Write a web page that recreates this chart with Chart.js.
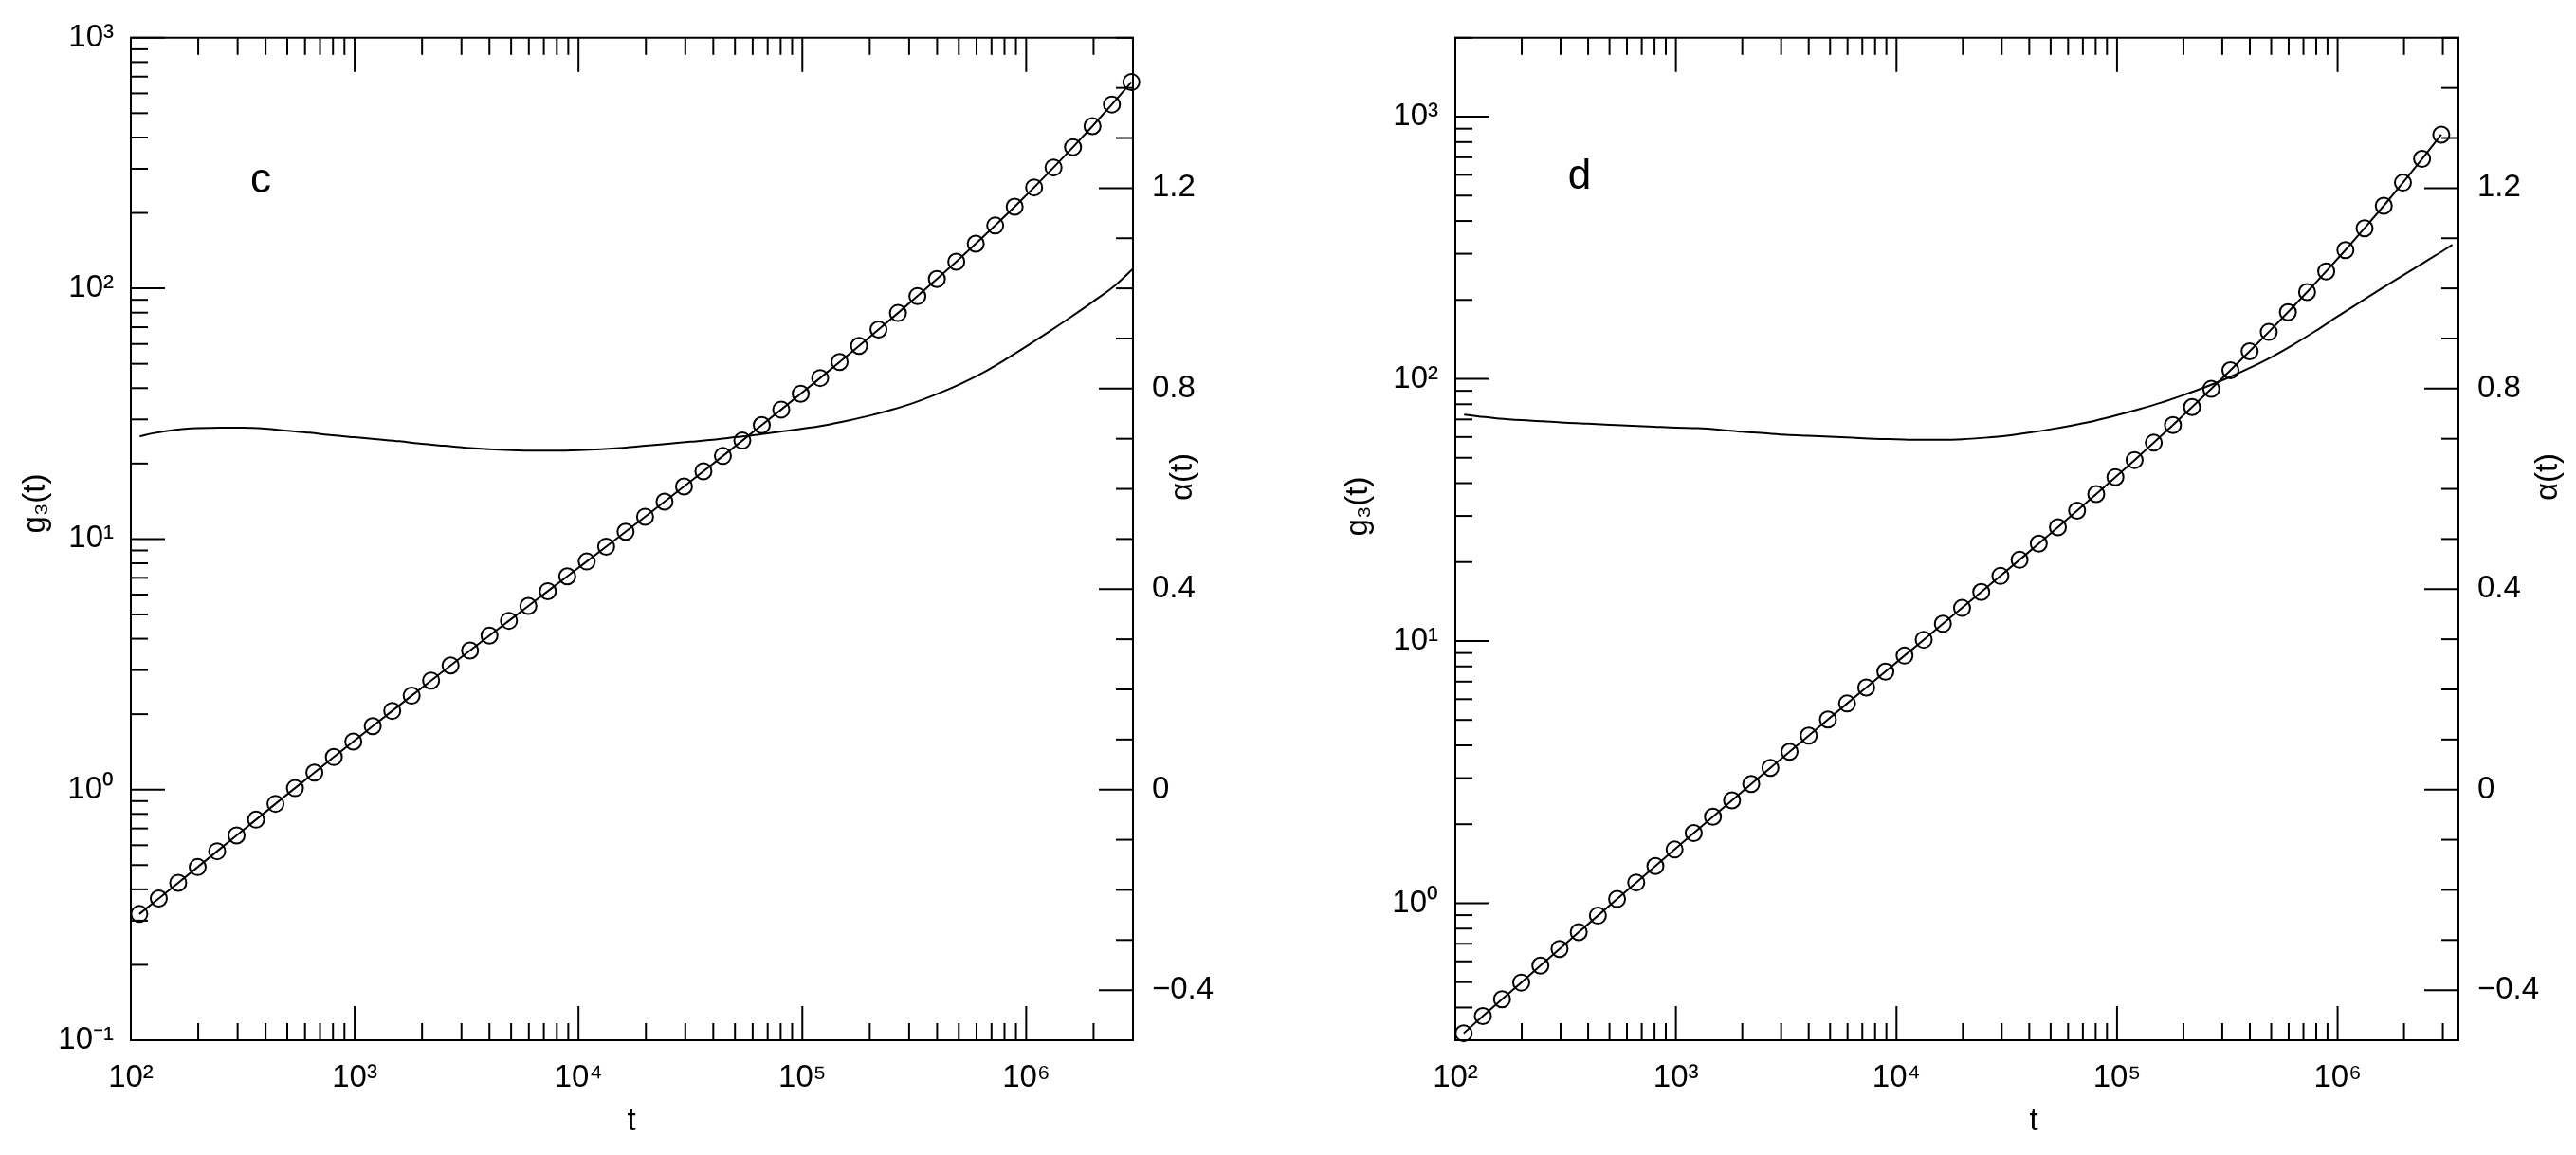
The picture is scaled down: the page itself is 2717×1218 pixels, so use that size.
<!DOCTYPE html>
<html><head><meta charset="utf-8">
<script src="https://cdn.jsdelivr.net/npm/chart.js@4.4.1/dist/chart.umd.min.js"></script>
<style>
html,body{margin:0;padding:0;background:#fff;}
#wrap{position:relative;width:2717px;height:1218px;overflow:hidden;background:#fff;}
canvas{position:absolute;top:0;}
</style></head><body>
<div id="wrap">
<canvas id="c1" width="1358" height="1218" style="left:0px"></canvas>
<canvas id="c2" width="1359" height="1218" style="left:1358px"></canvas>
</div>
<script>
// ---------------- data ----------------
const times = [109.1, 133.3, 162.8, 198.9, 243.0, 296.8, 362.6, 442.9, 541.0, 660.8, 807.2, 986.1,
  1204, 1472, 1797, 2195, 2682, 3276, 4001, 4888, 5970, 7293, 8908, 10880, 13290, 16230, 19830,
  24230, 29600, 36150, 44160, 53940, 65890, 80480, 98310, 120100, 146700, 179200, 218900, 267400,
  326600, 399000, 487300, 595200, 727100, 888100, 1085000, 1325000, 1619000, 1978000, 2415000, 2951000];

const g3PanelC = [0.319, 0.368, 0.425, 0.491, 0.568, 0.657, 0.759, 0.878, 1.014, 1.170, 1.349, 1.556,
  1.791, 2.062, 2.371, 2.724, 3.128, 3.588, 4.116, 4.718, 5.405, 6.192, 7.096, 8.134, 9.322, 10.69,
  12.27, 14.09, 16.20, 18.63, 21.44, 24.70, 28.47, 32.85, 37.95, 43.88, 50.84, 58.94, 68.48, 79.72,
  93.05, 108.9, 127.8, 150.7, 178.1, 211.8, 252.8, 303.6, 366.1, 444.0, 541.8, 665.2];

const g3PanelD = [0.319, 0.371, 0.430, 0.498, 0.578, 0.669, 0.775, 0.896, 1.037, 1.199, 1.386, 1.602,
  1.851, 2.138, 2.468, 2.847, 3.283, 3.783, 4.357, 5.018, 5.776, 6.646, 7.645, 8.796, 10.11, 11.63,
  13.37, 15.39, 17.71, 20.40, 23.53, 27.16, 31.41, 36.36, 42.17, 49.00, 57.07, 66.65, 78.02, 91.55,
  107.8, 127.3, 150.9, 179.5, 214.2, 257.0, 309.7, 375.3, 457.2, 560.2, 690.1, 854.0];

const alphaTimesC = [109.6, 125.9, 158.5, 199.5, 251.2, 316.2, 398.1, 501.2, 631, 794.3,
  1000, 1259, 1585, 1995, 2512, 3162, 3981, 5012, 6310, 7943,
  10000, 12590, 15850, 19950, 25120, 31620, 39810, 50120, 63100, 79430,
  100000, 125900, 158500, 199500, 251200, 316200, 398100, 501200, 631000, 794300,
  1000000, 1259000, 1585000, 1995000, 2512000, 3000000];
const alphaC = [0.705, 0.711, 0.718, 0.721, 0.722, 0.722, 0.720, 0.716, 0.712, 0.707,
  0.703, 0.699, 0.695, 0.690, 0.686, 0.682, 0.679, 0.677, 0.676, 0.676,
  0.677, 0.679, 0.682, 0.686, 0.690, 0.694, 0.698, 0.703, 0.708, 0.714,
  0.720, 0.727, 0.736, 0.746, 0.758, 0.772, 0.789, 0.808, 0.830, 0.856,
  0.884, 0.913, 0.943, 0.974, 1.007, 1.039];

const alphaTimesD = [109.6, 125.9, 158.5, 199.5, 251.2, 316.2, 398.1, 501.2, 631, 794.3,
  1000, 1259, 1585, 1995, 2512, 3162, 3981, 5012, 6310, 7943,
  10000, 12590, 15850, 19950, 25120, 31620, 39810, 50120, 63100, 79430,
  100000, 125900, 158500, 199500, 251200, 316200, 398100, 501200, 631000, 794300,
  1000000, 1259000, 1585000, 1995000, 2512000, 3162000, 3311000];
const alphaD = [0.748, 0.745, 0.740, 0.737, 0.735, 0.732, 0.730, 0.728, 0.726, 0.724,
  0.722, 0.721, 0.718, 0.714, 0.711, 0.708, 0.706, 0.704, 0.702, 0.700,
  0.699, 0.698, 0.698, 0.699, 0.702, 0.706, 0.712, 0.719, 0.727, 0.736,
  0.747, 0.759, 0.772, 0.787, 0.803, 0.821, 0.841, 0.863, 0.888, 0.915,
  0.944, 0.972, 1.000, 1.027, 1.054, 1.081, 1.087];

// tick labels
const xDecadeValues = [100, 1000, 10000, 100000, 1000000];
const xDecadeLabels = ['10\u00B2', '10\u00B3', '10\u2074', '10\u2075', '10\u2076'];
const yDecadeValuesC = [0.1, 1, 10, 100, 1000];
const yDecadeLabelsC = ['10\u207B\u00B9', '10\u2070', '10\u00B9', '10\u00B2', '10\u00B3'];
const yDecadeValuesD = [1, 10, 100, 1000];
const yDecadeLabelsD = ['10\u2070', '10\u00B9', '10\u00B2', '10\u00B3'];
const alphaLabelValues = [-0.4, 0, 0.4, 0.8, 1.2];
const alphaLabels = ['\u22120.4', '0', '0.4', '0.8', '1.2'];

const panelLetters = ['c', 'd'];
const xTitle = 't';
const yTitle = 'g\u2083(t)';
const y2Title = '\u03B1(t)';

// ---------------- helpers ----------------
const FONT = '"Liberation Sans", Arial, Helvetica, sans-serif';
Chart.defaults.font.family = FONT;
Chart.defaults.color = '#000';

function logTickValues(min, max) {
  const out = [];
  for (let e = -3; e <= 8; e++) {
    for (let m = 1; m <= 9; m++) {
      const v = +(m * Math.pow(10, e)).toPrecision(6);
      if (v >= min * 0.9999 && v <= max * 1.0001) out.push(v);
    }
  }
  return out;
}
function isDecade(v) { const l = Math.log10(v); return Math.abs(l - Math.round(l)) < 1e-6; }
function labelFor(v, values, labels) {
  for (let i = 0; i < values.length; i++) {
    if (Math.abs(Math.log10(v) - Math.log10(values[i])) < 1e-6) return labels[i];
  }
  return '';
}
function alphaTickValues() {
  const out = [];
  for (let k = -5; k <= 15; k++) out.push(k / 10);
  return out;
}

const frameTicks = {
  id: 'frameTicks',
  afterDraw(chart, args, o) {
    const { ctx, chartArea: a, scales } = chart;
    ctx.save();
    ctx.strokeStyle = '#000';
    ctx.lineWidth = 2;
    ctx.lineCap = 'butt';
    const line = (x1, y1, x2, y2) => { ctx.beginPath(); ctx.moveTo(x1, y1); ctx.lineTo(x2, y2); ctx.stroke(); };
    line(a.left - 1, a.top, a.right + 1, a.top);
    for (const t of scales.x.ticks) {
      const p = scales.x.getPixelForValue(t.value);
      const len = isDecade(t.value) ? 36 : 18;
      line(p, a.bottom, p, a.bottom - len);
      line(p, a.top, p, a.top + len);
    }
    for (const t of scales.y.ticks) {
      const p = scales.y.getPixelForValue(t.value);
      const len = isDecade(t.value) ? 36 : 18;
      line(a.left, p, a.left + len, p);
    }
    for (const t of scales.y2.ticks) {
      const p = scales.y2.getPixelForValue(t.value);
      const k = Math.round(t.value * 10);
      const len = (k % 4 === 0) ? 36 : 18;
      line(a.right, p, a.right - len, p);
    }
    // titles and panel letter
    ctx.fillStyle = '#000';
    ctx.textAlign = 'center';
    ctx.textBaseline = 'middle';
    ctx.font = '33px ' + FONT;
    ctx.fillText(xTitle, o.xTitleX, o.xTitleY);
    ctx.save();
    ctx.translate(o.yTitleX, o.yTitleY);
    ctx.rotate(-Math.PI / 2);
    ctx.fillText(yTitle, 0, 0);
    ctx.restore();
    ctx.save();
    ctx.translate(o.y2TitleX, o.y2TitleY);
    ctx.rotate(-Math.PI / 2);
    ctx.fillText(y2Title, 0, 0);
    ctx.restore();
    ctx.font = '44px ' + FONT;
    ctx.textBaseline = 'alphabetic';
    ctx.fillText(o.letter, o.letterX, o.letterY);
    ctx.restore();
  }
};

function makePanel(id, cfg) {
  const canvasW = document.getElementById(id).width;
  const xTicks = logTickValues(100, cfg.xMax);
  const yTicks = logTickValues(cfg.yMin, cfg.yMax);
  const aTicks = alphaTickValues();
  return new Chart(document.getElementById(id), {
    type: 'line',
    data: {
      datasets: [
        {
          label: 'g3',
          data: times.map((t, i) => ({ x: t, y: cfg.g3[i] })),
          yAxisID: 'y',
          borderColor: '#000',
          borderWidth: 2,
          pointRadius: 8.5,
          pointBorderWidth: 2,
          pointBackgroundColor: 'rgba(0,0,0,0)',
          pointBorderColor: '#000',
          tension: 0,
          clip: false
        },
        {
          label: 'alpha',
          data: cfg.aTimes.map((t, i) => ({ x: t, y: cfg.alpha[i] })),
          yAxisID: 'y2',
          borderColor: '#000',
          borderWidth: 2,
          pointRadius: 0,
          cubicInterpolationMode: 'monotone'
        }
      ]
    },
    options: {
      responsive: false,
      animation: false,
      events: [],
      layout: { padding: { top: 39, left: 0, right: 0, bottom: 0 } },
      plugins: {
        legend: { display: false },
        tooltip: { enabled: false },
        frameTicks: cfg.deco
      },
      scales: {
        x: {
          type: 'logarithmic',
          position: 'bottom',
          min: 100,
          max: cfg.xMax,
          grid: { display: false, drawTicks: false },
          border: { display: true, color: '#000', width: 2 },
          afterBuildTicks: s => { s.ticks = xTicks.map(v => ({ value: v })); },
          afterFit: s => { s.height = 1218 - cfg.bottom; },
          ticks: {
            autoSkip: false, maxRotation: 0, minRotation: 0, padding: 20,
            font: { size: 33 }, color: '#000',
            callback: v => labelFor(v, xDecadeValues, xDecadeLabels)
          }
        },
        y: {
          type: 'logarithmic',
          position: 'left',
          min: cfg.yMin,
          max: cfg.yMax,
          grid: { display: false, drawTicks: false },
          border: { display: true, color: '#000', width: 2 },
          afterBuildTicks: s => { s.ticks = yTicks.map(v => ({ value: v })); },
          afterFit: s => { s.width = cfg.left; },
          ticks: {
            autoSkip: false, padding: 18, font: { size: 33 }, color: '#000',
            callback: v => labelFor(v, cfg.yDecVals, cfg.yDecLabels)
          }
        },
        y2: {
          type: 'linear',
          position: 'right',
          min: -0.5,
          max: 1.5,
          grid: { display: false, drawTicks: false },
          border: { display: true, color: '#000', width: 2 },
          afterBuildTicks: s => { s.ticks = aTicks.map(v => ({ value: v })); },
          afterFit: s => { s.width = canvasW - cfg.right; },
          ticks: {
            autoSkip: false, padding: 20, font: { size: 33 }, color: '#000',
            callback: v => {
              const r = Math.round(v * 10) / 10;
              const i = alphaLabelValues.findIndex(a => Math.abs(a - r) < 1e-6);
              return i >= 0 ? alphaLabels[i] : '';
            }
          }
        }
      }
    },
    plugins: [frameTicks]
  });
}

makePanel('c1', {
  xMax: 3e6, yMin: 0.1, yMax: 1000, left: 138, right: 1195, bottom: 1097,
  g3: g3PanelC, aTimes: alphaTimesC, alpha: alphaC,
  yDecVals: yDecadeValuesC, yDecLabels: yDecadeLabelsC,
  deco: { letter: panelLetters[0], letterX: 275, letterY: 203,
          xTitleX: 666, xTitleY: 1183, yTitleX: 38, yTitleY: 531, y2TitleX: 1248, y2TitleY: 503 }
});
makePanel('c2', {
  xMax: 3.53e6, yMin: 0.3, yMax: 2000, left: 177, right: 1235, bottom: 1097,
  g3: g3PanelD, aTimes: alphaTimesD, alpha: alphaD,
  yDecVals: yDecadeValuesD, yDecLabels: yDecadeLabelsD,
  deco: { letter: panelLetters[1], letterX: 308, letterY: 199,
          xTitleX: 787, xTitleY: 1183, yTitleX: 75, yTitleY: 534, y2TitleX: 1330, y2TitleY: 503 }
});
</script>
</body></html>
